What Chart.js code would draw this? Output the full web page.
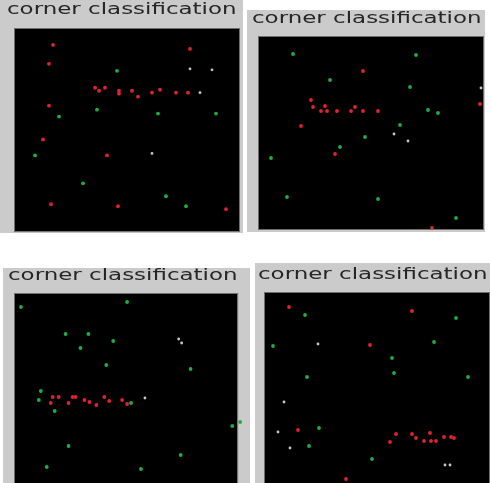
<!DOCTYPE html>
<html>
<head>
<meta charset="utf-8">
<script src="https://cdn.jsdelivr.net/npm/chart.js@4"></script>
<style>
  html, body { margin: 0; padding: 0; background: #ffffff; width: 490px; height: 483px; overflow: hidden; position: relative; }
  .panel { position: absolute; background: #cbcbcb; overflow: hidden; }
  .panel canvas { position: absolute; left: 0; top: 0; }
  .ttl { position: absolute; font: 15px "DejaVu Sans", sans-serif; line-height: 15px; color: #262626;
         white-space: nowrap; transform: scaleX(1.53); transform-origin: 0 0; }
</style>
</head>
<body>
<script>
// Corner points per image, in image pixel coordinates [x, y] (y grows downward).
const TITLE = 'corner classification';

// Image 1 (224 x 203)
const img1Red = [[38,16],[175,20],[34,35],[80,59],[84,62],[90,59],[104,62],[104,65],[117,62],[123,68],
                 [137,64],[145,61],[161,64],[173,64],[34,77],[28,111],[92,127],[36,176],[103,178],[211,181]];
const img1Green = [[102,42],[82,81],[44,88],[143,85],[201,85],[20,127],[68,155],[151,168],[171,178]];
const img1White = [[175,40],[197,41],[185,64],[137,125]];

// Image 2 (224 x 192)
const img2Red = [[104,34],[52,63],[66,69],[54,70],[96,70],[62,74],[68,74],[78,74],[92,74],[104,74],
                 [119,74],[42,89],[76,117],[221,67],[173,191]];
const img2Green = [[34,17],[157,18],[71,43],[151,50],[169,73],[179,76],[141,88],[106,100],[81,110],
                   [12,121],[28,160],[119,162],[197,181]];
const img2White = [[222,51],[135,97],[149,104]];

// Image 3 (224 x 200)
const img3Red = [[38,103],[44,103],[58,103],[61,103],[90,103],[36,109],[54,109],[70,106],[75,108],
                 [82,111],[95,107],[108,106],[113,110]];
const img3Green = [[6,13],[113,8],[51,40],[74,40],[99,47],[66,54],[92,71],[177,75],[26,97],[24,106],
                   [117,109],[40,117],[219,132],[227,128],[54,152],[167,161],[32,173],[127,175]];
const img3White = [[165,45],[168,49],[131,104]];

// Image 4 (224 x 200)
const img4Red = [[24,14],[147,18],[105,52],[33,137],[131,141],[147,141],[165,140],[151,145],[159,148],
                 [166,148],[171,148],[179,144],[186,144],[189,145],[125,149],[81,186]];
const img4Green = [[40,22],[191,25],[8,53],[169,49],[127,65],[129,80],[42,84],[203,84],[54,135],
                   [44,153],[107,166]];
const img4White = [[53,51],[19,109],[13,139],[25,155],[180,172],[185,172]];

const IMG_W = 224;

// Panel geometry: gray frame box, the plot rectangle inside it (px) and any
// extra room to the right of the image where points may still land.
const panels = [
  { left: 0,   top: 0,   w: 243, h: 233, pad: { left: 15, top: 29, right: 4,  bottom: 1 }, imgH: 203, xExtra: 0, tl: 7, tt: 2,
    red: img1Red, green: img1Green, white: img1White },
  { left: 247, top: 10,  w: 238, h: 222, pad: { left: 12, top: 27, right: 2,  bottom: 3 }, imgH: 192, xExtra: 0, tl: 5, tt: 1,
    red: img2Red, green: img2Green, white: img2White },
  { left: 3,   top: 268, w: 247, h: 230, pad: { left: 12, top: 26, right: 0,  bottom: 4 }, imgH: 200, xExtra: 11, tl: 5, tt: 0,
    red: img3Red, green: img3Green, white: img3White },
  { left: 255, top: 263, w: 240, h: 234, pad: { left: 10, top: 30, right: 6,  bottom: 4 }, imgH: 200, xExtra: 0, tl: 3, tt: 4,
    red: img4Red, green: img4Green, white: img4White }
];

// Black image background and thin frame, spanning the image extent on the scales.
const imageFrame = {
  id: 'imageFrame',
  rect(chart) {
    const { x, y } = chart.scales;
    const x0 = x.getPixelForValue(0), x1 = x.getPixelForValue(IMG_W);
    const y0 = y.getPixelForValue(0), y1 = y.getPixelForValue(y.max);
    return { l: Math.min(x0, x1), t: Math.min(y0, y1), w: Math.abs(x1 - x0), h: Math.abs(y1 - y0) };
  },
  beforeDraw(chart) {
    const r = this.rect(chart);
    const ctx = chart.ctx;
    ctx.save();
    ctx.fillStyle = '#000000';
    ctx.fillRect(r.l, r.t, r.w, r.h);
    ctx.restore();
  },
  afterDraw(chart) {
    const r = this.rect(chart);
    const ctx = chart.ctx;
    ctx.save();
    ctx.strokeStyle = '#6e6e6e';
    ctx.lineWidth = 1;
    ctx.strokeRect(r.l - 0.5, r.t - 0.5, r.w + 1, r.h + 1);
    ctx.restore();
  }
};

const toPts = arr => arr.map(([x, y]) => ({ x, y }));

function dotSet(label, arr, color, r) {
  return {
    label, data: toPts(arr), backgroundColor: color, borderWidth: 0,
    pointRadius: r, pointHoverRadius: r, pointStyle: 'circle', clip: false
  };
}

panels.forEach(p => {
  const box = document.createElement('div');
  box.className = 'panel';
  Object.assign(box.style, { left: p.left + 'px', top: p.top + 'px', width: p.w + 'px', height: p.h + 'px' });
  const cv = document.createElement('canvas');
  cv.width = p.w; cv.height = p.h;
  box.appendChild(cv);
  const t = document.createElement('div');
  t.className = 'ttl';
  t.textContent = TITLE;
  t.style.left = p.tl + 'px';
  t.style.top = p.tt + 'px';
  box.appendChild(t);
  document.body.appendChild(box);

  new Chart(cv, {
    type: 'scatter',
    data: {
      datasets: [
        dotSet('white', p.white, '#c8c8c8', 1.4),
        dotSet('green', p.green, '#1fae44', 1.9),
        dotSet('red', p.red, '#e3222c', 1.9)
      ]
    },
    options: {
      responsive: false,
      animation: false,
      devicePixelRatio: 1,
      layout: { padding: p.pad },
      plugins: { legend: { display: false }, title: { display: false }, tooltip: { enabled: false } },
      scales: {
        x: { type: 'linear', display: false, min: 0, max: IMG_W + p.xExtra },
        y: { type: 'linear', display: false, min: 0, max: p.imgH, reverse: true }
      }
    },
    plugins: [imageFrame]
  });
});
</script>
</body>
</html>
